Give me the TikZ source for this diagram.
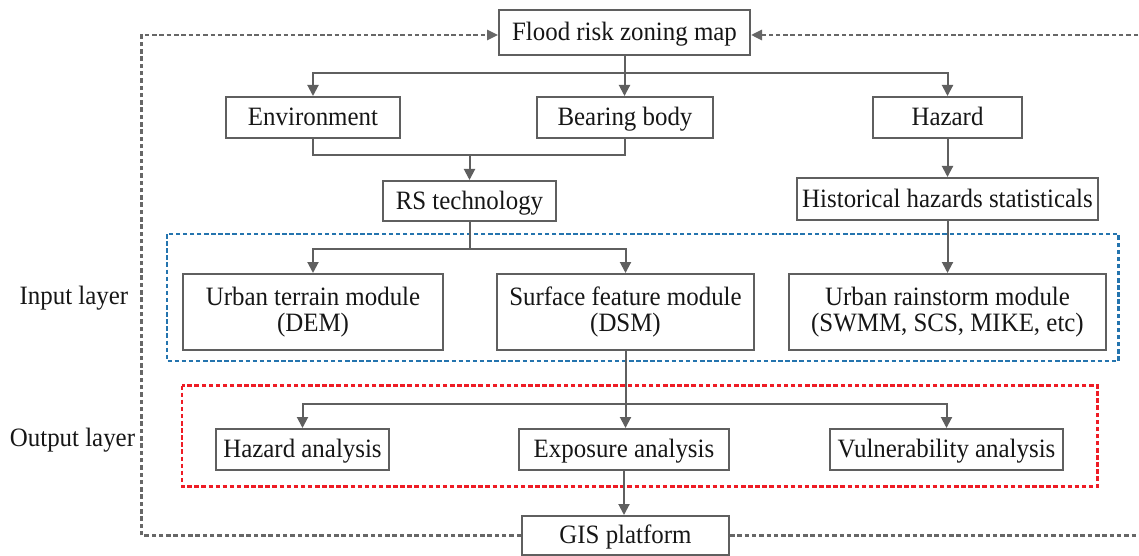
\documentclass[tikz,border=0pt]{standalone}
\usepackage{fontspec}
\setmainfont[FakeStretch=0.94]{Liberation Serif}
\usetikzlibrary{arrows.meta,calc}
\definecolor{lc}{HTML}{5F5F5F}
\definecolor{tc}{HTML}{161616}
\definecolor{bluedash}{HTML}{2474AE}
\definecolor{reddash}{HTML}{EE1C25}
\definecolor{greydash}{HTML}{676767}
\tikzset{
  box/.style={draw=lc, line width=2pt, inner sep=0pt, text=tc, align=center,
    font=\fontsize{26.5}{26}\selectfont},
  sbox/.style={box, text height=20pt, text depth=4pt},
  conn/.style={draw=lc, line width=2pt},
  arr/.style={conn, -{Triangle[length=11pt,width=11pt]}},
  gdash/.style={draw=greydash, line width=2.6pt, dash pattern=on 4.5pt off 2.8pt},
  garr/.style={gdash, -{Triangle[length=11pt,width=10pt]}},
  layerbox/.style={line width=2.4pt, dash pattern=on 4.5pt off 2.6pt},
  lbl/.style={text=tc, inner sep=0pt, font=\fontsize{26.5}{26}\selectfont}
}
\begin{document}
\begin{tikzpicture}[x=1pt,y=-1pt]
\useasboundingbox (0,0) rectangle (1139,556);
% layer frames
\draw[layerbox, draw=bluedash] (166.7,234) rectangle (1118.5,361);
\draw[layerbox, draw=reddash] (181.7,385.5) rectangle (1097.5,486.5);
% boxes
\node[sbox, minimum width=251pt, minimum height=45pt] (flood) at (624.5,32.5) {Flood risk zoning map};
\node[sbox, minimum width=174pt, minimum height=41pt] (env) at (313,117.5) {Environment};
\node[sbox, minimum width=176pt, minimum height=41pt] (bear) at (625,117.5) {Bearing body};
\node[sbox, minimum width=149pt, minimum height=41pt] (haz) at (947.5,117.5) {Hazard};
\node[sbox, minimum width=173pt, minimum height=40pt] (rs) at (469.5,201) {RS technology};
\node[sbox, minimum width=301pt, minimum height=42pt] (hist) at (947.5,199) {Historical hazards statisticals};
\node[box, minimum width=260pt, minimum height=76pt] (terr) at (313,312) {Urban terrain module\\(DEM)};
\node[box, minimum width=257pt, minimum height=76pt] (surf) at (625.5,312) {Surface feature module\\(DSM)};
\node[box, minimum width=317pt, minimum height=76pt] (rain) at (947.5,312) {Urban rainstorm module\\(SWMM, SCS, MIKE, etc)};
\node[sbox, minimum width=173pt, minimum height=41pt] (hana) at (302.5,449.5) {Hazard analysis};
\node[sbox, minimum width=210pt, minimum height=41pt] (expo) at (624,449.5) {Exposure analysis};
\node[sbox, minimum width=233pt, minimum height=41pt] (vuln) at (946.5,449.5) {Vulnerability analysis};
\node[sbox, minimum width=207pt, minimum height=39pt] (gis) at (625.5,535.5) {GIS platform};
% labels
\node[lbl] (inl) at (74,298) {Input layer};
\node[lbl] (outl) at (72.5,440) {Output layer};
% junction coordinates
\coordinate (j1) at (624.5,73);
\coordinate (j2) at (469.5,155);
\coordinate (j3) at (469.5,249);
\coordinate (j4) at (624.5,404);
% connectors
\draw[arr] (flood.south) -- (bear.north -| flood.south);
\draw[arr] (j1) -| (env.north);
\draw[arr] (j1) -| (haz.north);
\draw[conn] (env.south) |- (j2) -| (bear.south);
\draw[arr] (j2) -- (rs.north);
\draw[arr] (haz.south) -- (hist.north);
\draw[arr] (hist.south) -- (rain.north);
\draw[conn] (rs.south) -- (j3);
\draw[arr] (j3) -| (terr.north);
\draw[arr] (j3) -| (surf.north);
\draw[arr] (surf.south) -- (expo.north -| surf.south);
\draw[arr] (j4) -| (hana.north);
\draw[arr] (j4) -| (vuln.north);
\draw[arr] (expo.south) -- (gis.north -| expo.south);
% feedback loops
\coordinate (lb) at (141.5,535.5);
\coordinate (lt) at (141.5,35);
\coordinate (rb) at (1140,535.5);
\coordinate (rt) at (1140,35);
\draw[garr] (gis.west |- lb) -- (lb) -- (lt) -- (flood.west |- lt);
\draw[garr] (gis.east |- rb) -- (rb) -- (rt) -- (flood.east |- rt);
\end{tikzpicture}
\end{document}
